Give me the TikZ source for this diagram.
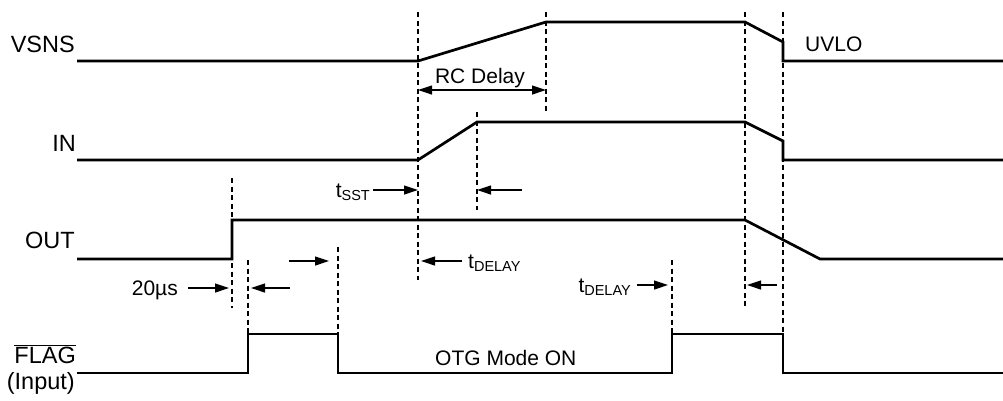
\documentclass[tikz,border=0pt]{standalone}
\usepackage{fontspec}
\setmainfont{Liberation Sans}
\usetikzlibrary{arrows.meta,calc,positioning}
\newcommand{\sigfont}{\fontsize{23.5}{26}\selectfont}
\newcommand{\txtfont}{\fontsize{21}{24}\selectfont}
\newcommand{\tsub}[1]{t\raisebox{-3.5pt}{\fontsize{14.5}{15}\selectfont #1}}

\begin{document}
\begin{tikzpicture}[x=1pt,y=-1pt,
  signal/.style={line width=2.7pt,line join=miter},
  guide/.style={line width=1.2pt,dash pattern=on 5pt off 3.5pt},
  dim/.style={line width=1.2pt,-{Triangle[length=14pt,width=9pt]}},
  dimboth/.style={line width=1.2pt,{Triangle[length=14pt,width=9pt]}-{Triangle[length=14pt,width=9pt]}},
  lbl/.style={inner sep=0pt,font=\sigfont},
  txt/.style={inner sep=0pt,font=\txtfont}]
  \useasboundingbox (0,0) rectangle (1003,400);
  \draw[signal] (77,61) -- (418,61) -- (546,22) -- (745,22) -- (783,42) -- (783,61) -- (1003,61);
  \draw[signal] (77,160) -- (418,160) -- (477,122) -- (745,122) -- (783,141) -- (783,160) -- (1003,160);
  \draw[signal] (77,259) -- (232,259) -- (232,220) -- (745,220) -- (820,259) -- (1003,259);
  \draw[signal] (77,373) -- (248,373) -- (248,334) -- (338,334) -- (338,373) -- (672,373)
    -- (672,334) -- (783,334) -- (783,373) -- (1003,373);
  \foreach \x/\ya/\yb in {232/178/308,248/260/334,338/247/334,418/12/280,477/112/210,
    546/12/112,672/260/334,745/12/308,783/12/334}
    \draw[guide] (\x,\ya) -- (\x,\yb);
  \node[lbl,anchor=base east] (vsns) at (75,52) {VSNS};
  \node[lbl,anchor=base east] (in) at (76,151) {IN};
  \node[lbl,anchor=base east] (out) at (75,248) {OUT};
  \node[lbl,anchor=base east] (flag) at (76,363) {$\overline{\mbox{FLAG}}$};
  \node[lbl,anchor=base east] (input) at (75,389) {(Input)};
  \node[txt,anchor=base] (rc) at (480,83) {RC Delay};
  \node[txt,anchor=base west] (uvlo) at (805,51) {UVLO};
  \node[txt,anchor=base west] (otg) at (435,365) {OTG Mode ON};
  \node[txt,anchor=base east] (tsst) at (370,197) {\tsub{SST}};
  \node[txt,anchor=base west] (tdly1) at (468,268) {\tsub{DELAY}};
  \node[txt,anchor=base east] (tdly2) at (631,292) {\tsub{DELAY}};
  \node[txt,anchor=base east] (us) at (178,295) {20µs};
  \coordinate (rcL) at (418,90);
  \coordinate (rcR) at (546,90);
  \coordinate (sstA) at (373,190);
  \coordinate (sstB) at (418,190);
  \coordinate (inA) at (522,190);
  \coordinate (inB) at (477,190);
  \coordinate (d1A) at (462,261);
  \coordinate (d1B) at (421,261);
  \coordinate (usA) at (188,288);
  \coordinate (usB) at (229,288);
  \coordinate (fA) at (290,288);
  \coordinate (fB) at (251,288);
  \coordinate (fcA) at (289,261);
  \coordinate (fcB) at (329,261);
  \coordinate (d2A) at (637,285);
  \coordinate (d2B) at (668,285);
  \coordinate (uvA) at (777,285);
  \coordinate (uvB) at (747,285);
  \draw[dimboth] (rcL) -- (rcR);
  \draw[dim] (sstA) -- (sstB);
  \draw[dim] (inA) -- (inB);
  \draw[dim] (d1A) -- (d1B);
  \draw[dim] (usA) -- (usB);
  \draw[dim] (fA) -- (fB);
  \draw[dim] (fcA) -- (fcB);
  \draw[dim] (d2A) -- (d2B);
  \draw[dim] (uvA) -- (uvB);
\end{tikzpicture}
\end{document}
